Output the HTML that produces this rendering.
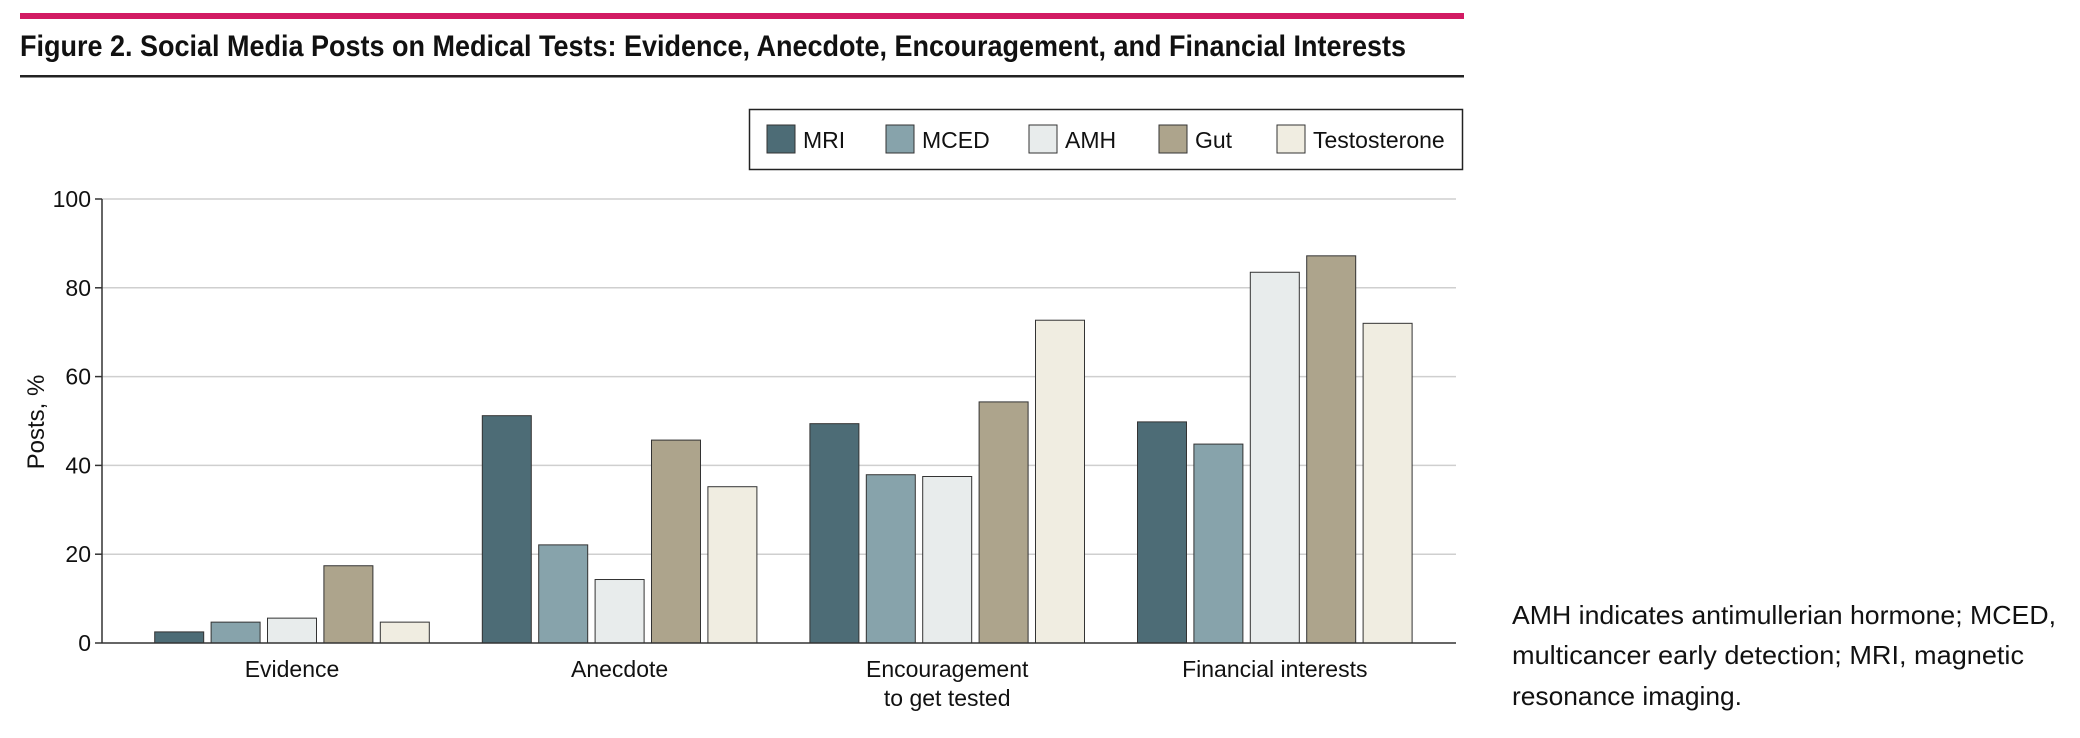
<!DOCTYPE html>
<html><head><meta charset="utf-8"><style>
html,body{margin:0;padding:0;background:#fff;}
svg{display:block;font-family:"Liberation Sans Narrow","Liberation Sans",sans-serif;}
</style></head><body>
<svg id="c" width="2080" height="738" xmlns="http://www.w3.org/2000/svg">
<rect x="20" y="13" width="1444" height="6" fill="#d21b63"/>
<text x="20" y="56" font-size="30" font-weight="bold" fill="#111" textLength="1386" lengthAdjust="spacingAndGlyphs">Figure 2. Social Media Posts on Medical Tests: Evidence, Anecdote, Encouragement, and Financial Interests</text>
<rect x="20" y="75" width="1444" height="2.5" fill="#222"/>
<rect x="749.5" y="109.5" width="713" height="60" fill="#fff" stroke="#222" stroke-width="1.5"/>
<g id="legend"></g>
<g id="grid"></g>
<g id="bars"></g>
<g id="axes"></g>
<text transform="translate(44,422) rotate(-90)" text-anchor="middle" font-size="24" fill="#111">Posts, %</text>
<g font-size="26" fill="#111">
<text x="1512" y="624" textLength="544" lengthAdjust="spacingAndGlyphs">AMH indicates antimullerian hormone; MCED,</text>
<text x="1512" y="664" textLength="512" lengthAdjust="spacingAndGlyphs">multicancer early detection; MRI, magnetic</text>
<text x="1512" y="705" textLength="230" lengthAdjust="spacingAndGlyphs">resonance imaging.</text>
</g>
</svg>
<script>
const categories=["Evidence","Anecdote","Encouragement|to get tested","Financial interests"];
const seriesNames=["MRI","MCED","AMH","Gut","Testosterone"];
const mri=[2.5,51.2,49.4,49.8];
const mced=[4.7,22.1,37.9,44.8];
const amh=[5.6,14.3,37.5,83.5];
const gut=[17.4,45.7,54.3,87.2];
const testo=[4.7,35.2,72.7,72.0];
const yTicks=[0,20,40,60,80,100];
const series=[mri,mced,amh,gut,testo];
const colors=["#4d6c76","#87a3ab","#e8ecec","#ada48c","#f0ede1"];
const NS="http://www.w3.org/2000/svg";
const x0=102,x1=1456,yTop=199,yBot=643;
const y=v=>yBot-(v/100)*(yBot-yTop);
const firstCenter=292,groupStep=327.6;
const pitch=56.4,bw=49;
const gx=i=>firstCenter+groupStep*i;
function mk(t,a,p){const e=document.createElementNS(NS,t);for(const k in a)e.setAttribute(k,a[k]);p.appendChild(e);return e;}
const grid=document.getElementById('grid'),bars=document.getElementById('bars'),axes=document.getElementById('axes'),leg=document.getElementById('legend');
yTicks.forEach(t=>{
 if(t>0){const l=mk('line',{x1:x0,x2:x1,y1:y(t),y2:y(t),stroke:'#cfcfcf','stroke-width':1.5},grid);
 
 }
 const tk=mk('line',{x1:x0-7,x2:x0,y1:y(t),y2:y(t),stroke:'#333','stroke-width':1.5},axes);
 
 
 const tx=mk('text',{x:x0-11,y:y(t)+8,'text-anchor':'end','font-size':23,fill:'#111'},axes);
 tx.textContent=t;
 
 
});
categories.forEach((c,i)=>{
 series.forEach((s,j)=>{
  const cx=gx(i)+(j-2)*pitch;
  const r=mk('rect',{x:cx-bw/2,y:y(s[i]),width:bw,height:yBot-y(s[i]),fill:colors[j],stroke:'#333','stroke-width':1},bars);
  
  
 });
 c.split('|').forEach((line,k)=>{
  const t=mk('text',{x:gx(i),y:677+k*29,'text-anchor':'middle','font-size':23,fill:'#111'},axes);
  t.textContent=line;
  
  
 });
});
const ax=mk('line',{x1:x0,x2:x0,y1:yTop,y2:yBot,stroke:'#333','stroke-width':1.5},axes);


const bx=mk('line',{x1:x0,x2:x1,y1:yBot,y2:yBot,stroke:'#333','stroke-width':1.5},axes);


const legX=[767,886,1029,1159,1277];
seriesNames.forEach((n,j)=>{
 const g=mk('g',{},leg);
 
 
 mk('rect',{x:legX[j],y:125,width:28,height:28,fill:colors[j],stroke:'#333','stroke-width':1},g);
 const t=mk('text',{x:legX[j]+36,y:148,'font-size':23,fill:'#111'},g);
 t.textContent=n;
});
</script>
</body></html>
